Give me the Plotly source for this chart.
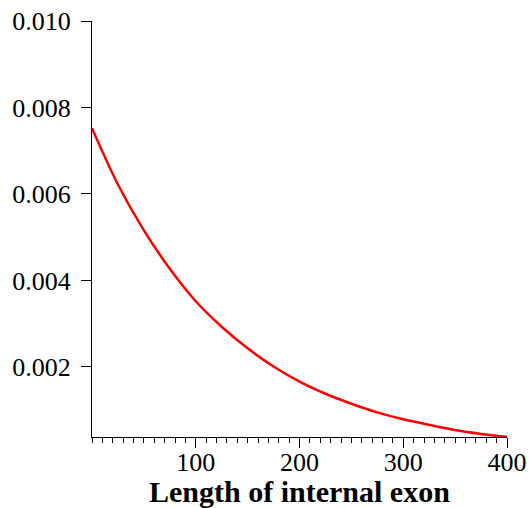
import plotly.graph_objects as go

exon_length = [0, 25, 50, 75, 100, 125, 150, 175, 200, 225, 250, 275, 300, 325, 350, 375, 400]
density = [0.00752, 0.00622, 0.00516, 0.00427, 0.00352, 0.00293, 0.00243, 0.00201,
           0.00166, 0.00138, 0.00115, 0.00095, 0.00079, 0.00066, 0.00054, 0.00045, 0.00038]
x_ticks = [100, 200, 300, 400]
y_ticks = [0.002, 0.004, 0.006, 0.008, 0.010]
x_title = "Length of internal exon"

fig = go.Figure(go.Scatter(
    x=exon_length, y=density, mode="lines",
    line=dict(color="#ff0000", width=2.5, shape="spline"),
    cliponaxis=False, hoverinfo="skip",
))

serif = "Liberation Serif, Times New Roman, serif"

fig.update_layout(
    width=529, height=508,
    margin=dict(l=92, r=22, t=21, b=71),
    paper_bgcolor="white", plot_bgcolor="white",
    showlegend=False,
    font=dict(family=serif, size=26, color="black"),
    xaxis=dict(
        range=[0, 400], tickvals=x_ticks, ticktext=[str(v) for v in x_ticks],
        showgrid=False, zeroline=False, showline=True, linecolor="black", linewidth=1,
        ticks="outside", ticklen=10, tickcolor="black", tickwidth=1,
        minor=dict(dtick=10, tick0=0, ticks="outside", ticklen=5, tickcolor="black", tickwidth=1, showgrid=False),
        tickfont=dict(size=26), automargin=False, ticklabelstandoff=-8,
    ),
    yaxis=dict(
        range=[0.00038, 0.0100], tickvals=y_ticks, ticktext=["%.3f" % v for v in y_ticks],
        showgrid=False, zeroline=False, showline=True, linecolor="black", linewidth=1,
        ticks="outside", ticklen=10, tickcolor="black", tickwidth=1,
        tickfont=dict(size=26), automargin=False, ticklabelstandoff=5,
    ),
    annotations=[dict(
        text="<b>" + x_title + "</b>", xref="paper", yref="paper",
        x=0.5, y=-0.131, xanchor="center", yanchor="middle", showarrow=False,
        font=dict(family=serif, size=30, color="black"),
    )],
)

fig.write_html(
    "out.html",
    config={"displayModeBar": False},
    post_script="document.body.style.margin='0';document.body.style.overflow='hidden';",
)
